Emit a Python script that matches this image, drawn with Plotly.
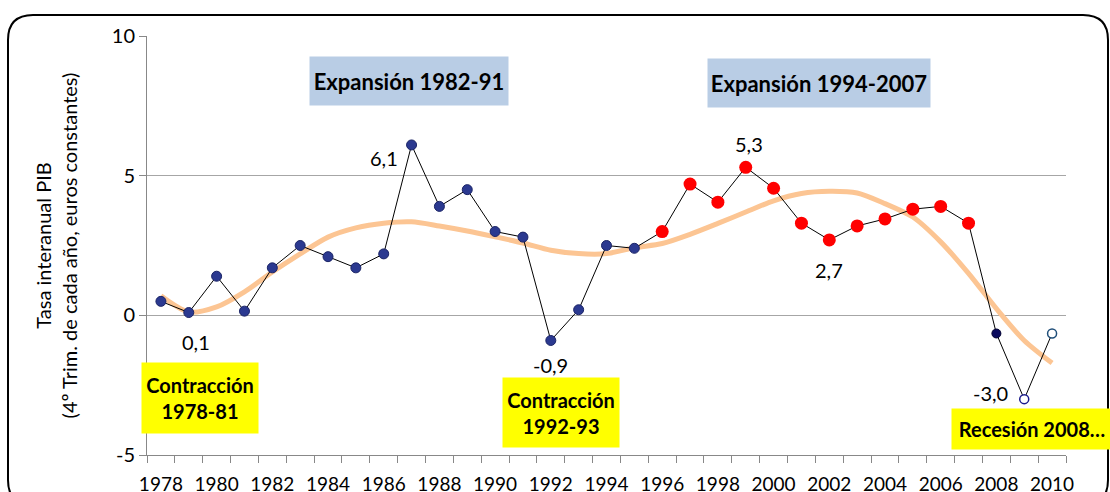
import plotly.graph_objects as go

# PIB interanual (4º trimestre), % real
years = list(range(1978, 2011))
pib = [0.5, 0.1, 1.4, 0.15, 1.7, 2.5, 2.1, 1.7, 2.2, 6.1, 3.9, 4.5, 3.0, 2.8,
       -0.9, 0.2, 2.5, 2.4, 3.0, 4.7, 4.05, 5.3, 4.55, 3.3, 2.7, 3.2, 3.45, 3.8,
       3.9, 3.3, -0.65, -3.0, -0.65]
# tendencia suavizada
trend = [0.7, 0.12, 0.3, 0.84, 1.55, 2.2, 2.8, 3.13, 3.3, 3.35, 3.2, 3.02, 2.81,
         2.59, 2.33, 2.21, 2.21, 2.42, 2.57, 2.9, 3.29, 3.7, 4.1, 4.36, 4.44,
         4.38, 4.0, 3.52, 2.63, 1.5, 0.24, -0.9, -1.71]

tick_years = list(range(1978, 2011, 2))
y_ticks = [-5, 0, 5, 10]
labelled = {1979: "0,1", 1987: "6,1", 1992: "-0,9", 1999: "5,3", 2002: "2,7", 2009: "-3,0"}

W, H = 1110, 492
L, R, T, B = 147, 1066, 36, 455
FONT = "Lato, 'Open Sans', sans-serif"


def px(x, y):
    return (x - L) / (R - L), (B - y) / (B - T)


fig = go.Figure()

fig.add_trace(go.Scatter(x=years, y=trend, mode="lines",
                         line=dict(color="#FCC593", width=5, shape="spline", smoothing=0.8),
                         hoverinfo="skip", showlegend=False))
fig.add_trace(go.Scatter(x=years, y=pib, mode="lines",
                         line=dict(color="black", width=1), showlegend=False))

# markers per period
groups = [
    ([y for y in years if y <= 1995], dict(size=10, color="#2B3990", line=dict(color="#1B2466", width=1))),
    ([y for y in years if 1996 <= y <= 2007], dict(size=13, color="#FF0000", line=dict(width=0))),
    ([2008], dict(size=9, color="#0A0A5E", line=dict(color="#000030", width=1))),
    ([2009], dict(size=9, color="white", line=dict(color="#1A1A8C", width=1.5))),
    ([2010], dict(size=9, color="white", line=dict(color="#1F4E79", width=1.5))),
]
for ys, mk in groups:
    fig.add_trace(go.Scatter(x=ys, y=[pib[years.index(y)] for y in ys], mode="markers",
                             marker=mk, showlegend=False))

shifts = {1979: (7, -29), 1987: (-28, -13), 1992: (0, -25), 1999: (3, 23),
          2002: (0, -30), 2009: (-34, 6)}
annotations = []
for yr, txt in labelled.items():
    dx, dy = shifts[yr]
    annotations.append(dict(x=yr, y=pib[years.index(yr)], text=txt, showarrow=False,
                            xshift=dx, yshift=dy, font=dict(size=20, color="black", family=FONT)))


def box(x0, y0, x1, y1, text, color, size):
    cx, cy = px((x0 + x1) / 2, (y0 + y1) / 2)
    return dict(x=cx, y=cy, xref="paper", yref="paper", xanchor="center", yanchor="middle",
                text="<b>" + text + "</b>", showarrow=False, bgcolor=color,
                width=x1 - x0, height=y1 - y0, borderpad=0, align="center", valign="middle",
                font=dict(size=size, color="black", family=FONT))


annotations += [
    box(310, 57, 508, 105, "Expansión 1982-91", "#B9CDE5", 22),
    box(708, 59, 930, 107, "Expansión 1994-2007", "#B9CDE5", 22),
    box(142, 363, 258, 433, "Contracción<br>1978-81", "#FFFF00", 20),
    box(503, 378, 619, 447, "Contracción<br>1992-93", "#FFFF00", 20),
    box(952, 409, 1112, 449, "Recesión 2008…", "#FFFF00", 20),
]

# rounded outer frame
x0, y0 = px(8, 15)
x1, y1 = px(1108, 505)
rx, ry = 25 / (R - L), 25 / (B - T)
path = (f"M {x0 + rx},{y0} L {x1 - rx},{y0} Q {x1},{y0} {x1},{y0 - ry} "
        f"L {x1},{y1 + ry} Q {x1},{y1} {x1 - rx},{y1} L {x0 + rx},{y1} "
        f"Q {x0},{y1} {x0},{y1 + ry} L {x0},{y0 - ry} Q {x0},{y0} {x0 + rx},{y0} Z")

fig.update_layout(
    width=W, height=H,
    margin=dict(l=L, r=W - R, t=T, b=H - B),
    paper_bgcolor="white", plot_bgcolor="white",
    font=dict(family=FONT, size=19, color="black"),
    annotations=annotations,
    shapes=[dict(type="path", path=path, xref="paper", yref="paper",
                 line=dict(color="black", width=2), layer="above")],
)
fig.update_xaxes(
    automargin=False,
    range=[1977.5, 2010.5], tickmode="array", tickvals=tick_years,
    ticktext=[str(y) for y in tick_years], ticks="", showgrid=False,
    showline=True, linecolor="#888888", linewidth=1, zeroline=False,
    ticklabelstandoff=12, tickfont=dict(size=19),
    minor=dict(tickmode="array", tickvals=[y - 0.5 for y in years + [2011]],
               ticks="outside", ticklen=7, tickcolor="#888888", showgrid=False),
)
fig.update_yaxes(
    automargin=False,
    range=[-5, 10], tickmode="array", tickvals=y_ticks, ticktext=[str(v) for v in y_ticks],
    ticks="outside", ticklen=7, tickcolor="#888888", showgrid=True, gridcolor="#A6A6A6",
    showline=True, linecolor="#888888", zeroline=False, tickfont=dict(size=20),
    title=dict(text="Tasa interanual PIB<br>(4º Trim. de cada año, euros constantes)",
               font=dict(size=20), standoff=28),
)

fig.write_html("out.html", config=dict(displayModeBar=False),
               post_script="document.body.style.margin='0';")
